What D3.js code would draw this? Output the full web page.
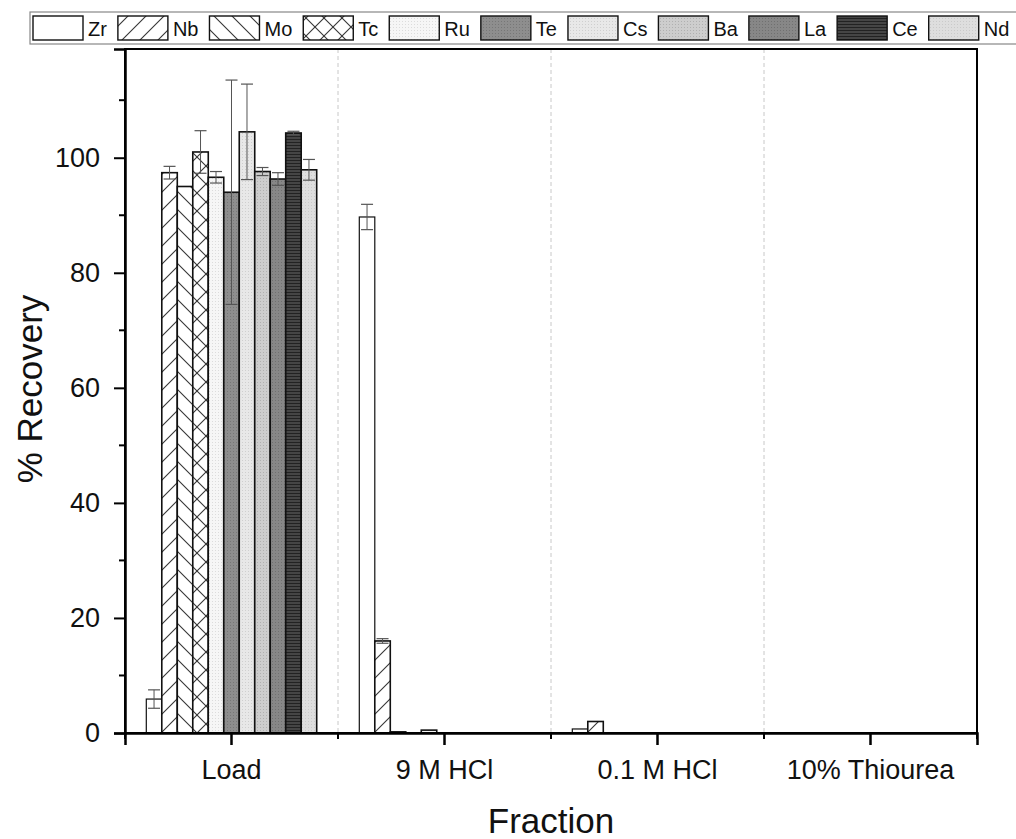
<!DOCTYPE html>
<html>
<head>
<meta charset="utf-8">
<script src="https://cdn.jsdelivr.net/npm/d3@7"></script>
<style>
  body { margin: 0; background: #fff; }
  svg { font-family: "Liberation Sans", Arial, sans-serif; }
</style>
</head>
<body>
<div id="canvas"></div>
<script>
// fractions along the x axis
const fractions = ['Load', '9 M HCl', '0.1 M HCl', '10% Thiourea']
const elements = ['Zr', 'Nb', 'Mo', 'Tc', 'Ru', 'Te', 'Cs', 'Ba', 'La', 'Ce', 'Nd']

// % recovery per element, one value per fraction
const Zr = [5.9, 89.7, 0.7, 0]
const Nb = [97.4, 16.0, 2.0, 0]
const Mo = [95.0, 0.2, 0, 0]
const Tc = [101.0, 0, 0, 0]
const Ru = [96.6, 0.5, 0, 0]
const Te = [94.0, 0, 0, 0]
const Cs = [104.5, 0, 0, 0]
const Ba = [97.6, 0, 0, 0]
const La = [96.3, 0, 0, 0]
const Ce = [104.3, 0, 0, 0]
const Nd = [97.9, 0, 0, 0]

// standard deviations
const ZrErr = [1.6, 2.2, 0, 0]
const NbErr = [1.1, 0.4, 0, 0]
const MoErr = [0, 0, 0, 0]
const TcErr = [3.7, 0, 0, 0]
const RuErr = [1.0, 0, 0, 0]
const TeErr = [19.5, 0, 0, 0]
const CsErr = [8.3, 0, 0, 0]
const BaErr = [0.7, 0, 0, 0]
const LaErr = [1.1, 0, 0, 0]
const CeErr = [0.3, 0, 0, 0]
const NdErr = [1.8, 0, 0, 0]

const yTicks = [0, 20, 40, 60, 80, 100]
const yMinor = [10, 30, 50, 70, 90, 110]

const values = {Zr, Nb, Mo, Tc, Ru, Te, Cs, Ba, La, Ce, Nd}
const errors = {Zr: ZrErr, Nb: NbErr, Mo: MoErr, Tc: TcErr, Ru: RuErr, Te: TeErr,
  Cs: CsErr, Ba: BaErr, La: LaErr, Ce: CeErr, Nd: NdErr}

var margin = {top: 49, right: 39, bottom: 106, left: 125},
  width = 1016 - margin.left - margin.right,
  height = 839 - margin.top - margin.bottom

var root = d3.select('#canvas')
  .append('svg')
  .attr('width', 1016)
  .attr('height', 839)

// fill patterns for each element
const defs = root.append('defs')
function hatch (id, paths, bg, size) {
  const p = defs.append('pattern')
    .attr('id', id)
    .attr('patternUnits', 'userSpaceOnUse')
    .attr('width', size).attr('height', size)
  p.append('rect').attr('width', size).attr('height', size).attr('fill', bg)
  paths.forEach(d => {
    p.append('path').attr('d', d).attr('stroke', '#333').attr('stroke-width', 1.1).attr('fill', 'none')
  })
}
const s = 18
hatch('p-Nb', [`M0,${s} L${s},0`, `M-2,2 L2,-2`, `M${s - 2},${s + 2} L${s + 2},${s - 2}`], '#fff', s)
hatch('p-Mo', [`M0,0 L${s},${s}`, `M-2,${s - 2} L2,${s + 2}`, `M${s - 2},-2 L${s + 2},2`], '#fff', s)
hatch('p-Tc', [`M0,${s} L${s},0`, `M0,0 L${s},${s}`], '#fff', s)

function dots (id, bg, fg) {
  const p = defs.append('pattern')
    .attr('id', id)
    .attr('patternUnits', 'userSpaceOnUse')
    .attr('width', 3).attr('height', 3)
  p.append('rect').attr('width', 3).attr('height', 3).attr('fill', bg)
  p.append('rect').attr('width', 1).attr('height', 1).attr('fill', fg)
}
dots('p-Ru', '#f6f6f6', '#dcdcdc')
dots('p-Te', '#8e8e8e', '#777')
dots('p-Cs', '#e8e8e8', '#cfcfcf')
dots('p-Ba', '#cdcdcd', '#b0b0b0')
dots('p-La', '#878787', '#707070')
dots('p-Nd', '#dedede', '#cacaca')
const ce = defs.append('pattern')
  .attr('id', 'p-Ce')
  .attr('patternUnits', 'userSpaceOnUse')
  .attr('width', 3).attr('height', 3)
ce.append('rect').attr('width', 3).attr('height', 3).attr('fill', '#454545')
ce.append('rect').attr('width', 3).attr('height', 1).attr('fill', '#222')

const fillOf = el => el === 'Zr' ? '#fff' : `url(#p-${el})`

var svg = root.append('g')
  .attr('transform', 'translate(' + margin.left + ',' + margin.top + ')')

const x0 = d3.scaleBand()
  .domain(fractions)
  .range([0, width])
  .padding(0)

const x1 = d3.scaleBand()
  .domain(elements)
  .range([x0.bandwidth() * 0.1, x0.bandwidth() * 0.9])
  .padding(0)

const y = d3.scaleLinear()
  .domain([0, 118.9])
  .range([height, 0])

// dashed separators between fractions
svg.selectAll('.sep')
  .data(fractions.slice(1))
  .enter()
  .append('line')
  .attr('x1', d => x0(d)).attr('x2', d => x0(d))
  .attr('y1', 0).attr('y2', height)
  .attr('stroke', '#c8c8c8')
  .attr('stroke-dasharray', '4,3')

// bars
fractions.forEach((f, fi) => {
  const g = svg.append('g').attr('transform', `translate(${x0(f)},0)`)
  elements.forEach(el => {
    const v = values[el][fi]
    if (v <= 0) return
    g.append('rect')
      .attr('x', x1(el))
      .attr('y', y(v))
      .attr('width', x1.bandwidth())
      .attr('height', y(0) - y(v))
      .attr('fill', fillOf(el))
      .attr('stroke', '#111')
      .attr('stroke-width', el === 'Zr' ? 1.2 : 1.6)
  })
  elements.forEach(el => {
    const v = values[el][fi]
    const e = errors[el][fi]
    if (e <= 0) return
    const cx = x1(el) + x1.bandwidth() / 2
    g.append('line')
      .attr('x1', cx).attr('x2', cx)
      .attr('y1', y(v - e)).attr('y2', y(v + e))
      .attr('stroke', '#555').attr('stroke-width', 1)
    ;[v - e, v + e].forEach(t => {
      g.append('line')
        .attr('x1', cx - 6).attr('x2', cx + 6)
        .attr('y1', y(t)).attr('y2', y(t))
        .attr('stroke', '#555').attr('stroke-width', 1.2)
    })
  })
})

// frame
svg.append('rect')
  .attr('width', width).attr('height', height)
  .attr('fill', 'none')
  .attr('stroke', '#000')
  .attr('stroke-width', 2)

// y axis
const yAxis = svg.append('g')
  .call(d3.axisLeft(y).tickValues(yTicks).tickSize(11).tickPadding(14))
yAxis.select('.domain').attr('stroke-width', 2.5)
yAxis.selectAll('.tick line').attr('stroke-width', 2)
yAxis.selectAll('.tick text').attr('font-size', '27px').attr('fill', '#111')
  .attr('font-family', '"Liberation Sans", Arial, sans-serif')
svg.selectAll('.ymin')
  .data(yMinor)
  .enter()
  .append('line')
  .attr('x1', -6).attr('x2', 0)
  .attr('y1', d => y(d)).attr('y2', d => y(d))
  .attr('stroke', '#000').attr('stroke-width', 2)

// x axis
const xAxis = svg.append('g')
  .attr('transform', 'translate(0,' + height + ')')
  .call(d3.axisBottom(x0).tickSize(12).tickPadding(15))
xAxis.select('.domain').attr('stroke-width', 2.5)
xAxis.selectAll('.tick line').attr('stroke-width', 2.5)
xAxis.selectAll('.tick text').attr('font-size', '27px').attr('fill', '#111')
  .attr('font-family', '"Liberation Sans", Arial, sans-serif')
svg.selectAll('.xmin')
  .data(fractions.map(f => x0(f)).concat([width]))
  .enter()
  .append('line')
  .attr('x1', d => d).attr('x2', d => d)
  .attr('y1', height).attr('y2', height + 6)
  .attr('stroke', '#000').attr('stroke-width', 2)

// axis titles
svg.append('text')
  .text('Fraction')
  .attr('x', width / 2)
  .attr('y', height + 100)
  .attr('text-anchor', 'middle')
  .attr('font-size', '35px')
  .attr('fill', '#111')

svg.append('text')
  .text('% Recovery')
  .attr('transform', `translate(${-83},${height / 2 - 2}) rotate(-90)`)
  .attr('text-anchor', 'middle')
  .attr('font-size', '35px')
  .attr('fill', '#111')

// legend across the top
const legend = root.append('g')
legend.append('rect')
  .attr('x', 30).attr('y', 12)
  .attr('width', 1000).attr('height', 32)
  .attr('fill', '#fff')
  .attr('stroke', '#888')
  .attr('stroke-width', 1.2)
let lx = 33
elements.forEach(el => {
  legend.append('rect')
    .attr('x', lx).attr('y', 16)
    .attr('width', 50).attr('height', 24)
    .attr('fill', fillOf(el))
    .attr('stroke', '#111')
    .attr('stroke-width', 1.4)
  const t = legend.append('text')
    .text(el)
    .attr('x', lx + 55)
    .attr('y', 36)
    .attr('font-size', '20px')
    .attr('fill', '#111')
  lx = lx + 55 + t.node().getComputedTextLength() + 11
})
</script>
</body>
</html>
